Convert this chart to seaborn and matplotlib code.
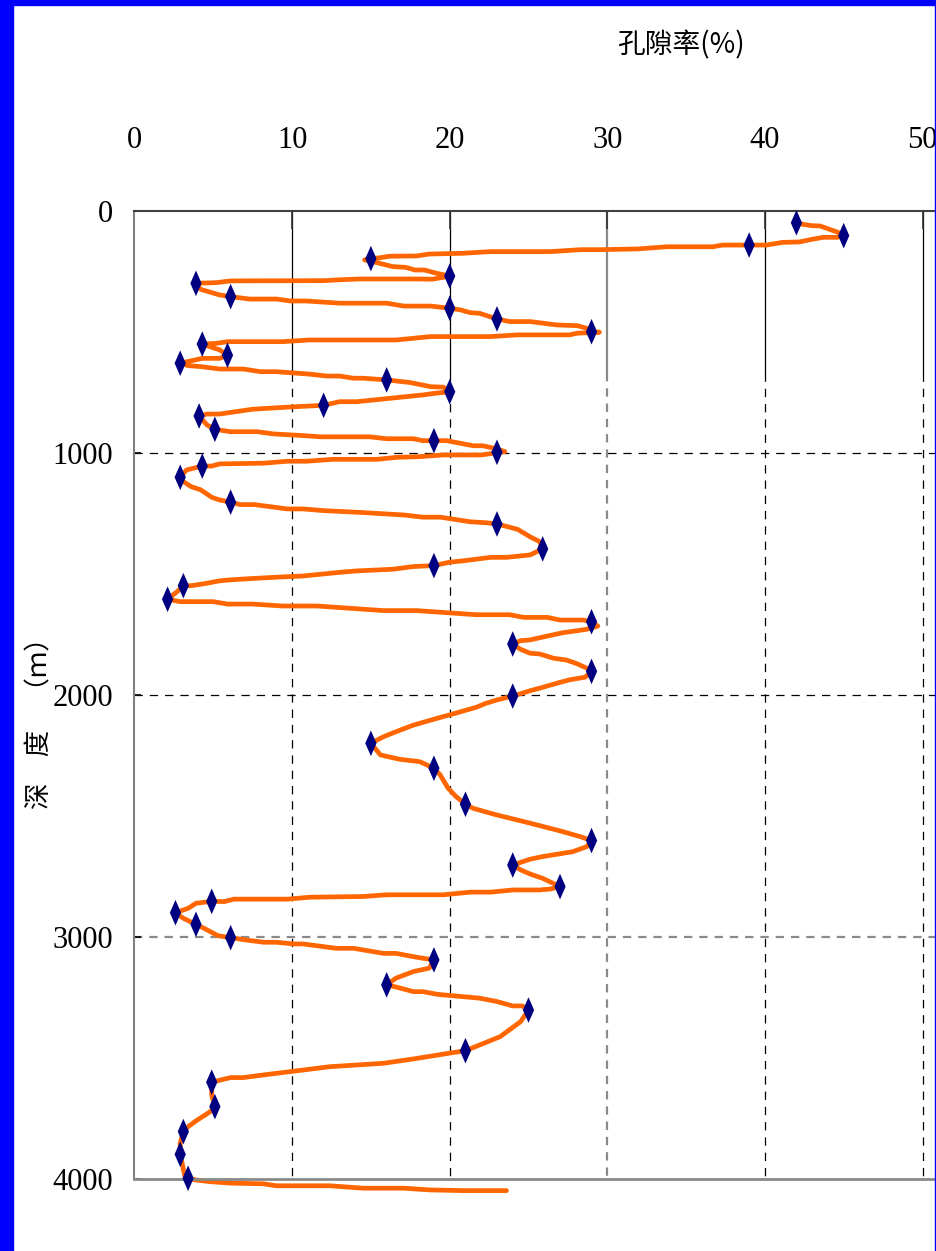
import matplotlib
matplotlib.use("Agg")
import matplotlib.pyplot as plt
from matplotlib.patches import Rectangle
from matplotlib.path import Path
from matplotlib.markers import MarkerStyle
import seaborn as sns

# Porosity log (%) against depth (m): continuous curve
curve_porosity = [
    42.0, 42.3, 43.0, 43.5, 44.1, 44.8, 45.0,
    44.6, 43.7, 43.0, 42.2, 41.1, 40.1, 39.0, 37.3, 36.7, 33.8, 31.9, 29.5, 28.3,
    26.4, 22.6, 20.8, 18.7, 17.9, 16.2, 15.5, 15.0, 14.6,
    15.4, 16.4, 17.2, 17.8, 18.4, 19.2, 20.0,
    19.6, 18.9, 17.9, 14.3, 12.8, 12.0, 6.1, 5.2, 3.9,
    4.2, 5.4, 6.1, 7.3, 9.0, 9.9, 10.9, 13.0, 16.0, 17.1, 18.8, 20.0,
    20.7, 21.3, 21.9, 23.0, 23.8, 25.1, 26.8, 28.1, 28.7, 29.0, 29.5,
    28.1, 27.6, 24.3, 22.6, 18.8, 16.6, 11.1, 9.4, 5.9, 5.2, 4.3,
    4.8, 5.4, 5.9,
    5.4, 4.3, 3.6, 2.9,
    3.4, 4.2, 5.4, 6.9, 8.0, 9.0, 11.1, 12.2, 13.0, 13.9, 14.5, 16.0, 17.5, 18.8, 19.6, 20.0,
    19.1, 18.3, 14.1, 13.0, 12.4, 12.0, 10.1, 8.6, 7.5, 5.4, 4.6, 4.1,
    4.6, 5.1, 6.1, 7.8, 8.8, 10.7, 11.8, 14.9, 16.0, 17.7, 18.3, 19.0, 19.8, 20.7, 21.5,
    22.1, 22.8, 23.5,
    22.0, 19.6, 18.1, 16.6, 15.4, 12.6, 10.9, 9.7, 8.2, 5.4, 4.9, 4.3, 3.3, 2.9,
    3.1, 3.6, 4.2, 4.9, 5.4, 6.1, 6.7, 7.6, 9.7, 10.7, 12.0, 14.5, 17.1, 18.3, 19.4,
    21.3, 22.3, 23.0, 24.3, 25.1, 25.7, 25.9,
    25.1, 23.6, 22.6, 20.9, 20.0, 19.0, 17.7, 16.4, 15.4, 14.1, 13.0, 10.7, 9.0, 7.3,
    6.1, 5.4, 4.6, 3.6, 3.1, 2.7, 2.1,
    2.9, 5.0, 5.9, 7.5, 9.4, 11.6, 15.8, 17.9, 21.7, 23.8, 24.7, 26.2, 27.0, 28.5, 29.0, 29.4,
    28.7, 28.1, 27.2, 26.2, 25.1, 24.5, 24.0,
    24.5, 25.1, 25.7, 26.6, 27.4, 28.1, 28.7, 29.0,
    28.6, 27.6, 26.8, 25.9, 25.1, 24.0, 23.0, 22.3, 21.7, 20.2, 19.2, 17.7, 16.6, 15.8, 15.0,
    15.6, 16.8, 18.1, 18.7, 19.0, 19.4, 19.9, 20.4, 21.0, 21.5, 22.8, 25.1, 27.0, 28.3, 29.0,
    28.7, 27.8, 25.9, 25.1, 24.0, 24.5, 25.1, 25.9, 27.0,
    26.4, 25.7, 24.0, 22.6, 21.3, 19.6, 16.0, 14.5, 11.1, 9.7, 6.3, 5.7, 4.9, 3.9, 3.4, 2.6,
    3.1, 3.9, 4.4, 5.3, 6.1, 7.1, 8.2, 9.0, 10.1, 10.7, 12.8, 13.9, 15.8, 16.6, 17.9, 19.0,
    18.7, 17.7, 16.6, 16.0,
    16.6, 17.7, 18.3, 19.2, 21.9, 23.0, 24.0, 24.6, 25.0,
    24.5, 23.2, 21.9, 21.0, 20.0, 17.7, 15.8, 13.2, 12.4, 9.9, 8.2, 6.9, 6.1, 4.9,
    4.9, 5.1, 4.8, 3.9, 3.4, 3.1, 2.9, 2.9, 3.2, 3.4,
    3.9, 4.8, 6.1, 8.2, 9.0, 12.4, 14.5, 17.1, 18.7, 20.9, 23.6,
]
curve_depth = [
    50, 55, 62, 63, 77, 93, 103,
    110, 110, 118, 129, 131, 142, 142, 142, 149, 149, 158, 161, 161,
    169, 169, 176, 179, 187, 188, 195, 198, 203,
    215, 231, 234, 245, 245, 259, 270,
    275, 283, 282, 282, 286, 289, 290, 297, 300,
    325, 348, 355, 365, 365, 373, 373, 382, 382, 394, 394, 403,
    410, 421, 424, 447, 458, 458, 472, 475, 486, 500, 502,
    506, 513, 513, 520, 520, 534, 534, 541, 541, 548, 551,
    562, 575, 597,
    610, 610, 620, 630,
    640, 644, 654, 654, 665, 665, 675, 683, 683, 692, 692, 699, 710, 727, 729, 748,
    754, 761, 789, 789, 798, 804, 810, 816, 820, 840, 840, 848,
    885, 903, 913, 913, 922, 929, 934, 934, 942, 942, 950, 950, 950, 961, 971,
    971, 981, 995,
    1009, 1009, 1016, 1019, 1027, 1027, 1035, 1035, 1043, 1046, 1055, 1055, 1071, 1101,
    1119, 1140, 1153, 1184, 1195, 1204, 1214, 1214, 1232, 1232, 1239, 1247, 1257, 1266, 1266,
    1285, 1289, 1294, 1316, 1347, 1367, 1397,
    1422, 1432, 1432, 1446, 1452, 1466, 1470, 1481, 1484, 1488, 1494, 1509, 1514, 1520,
    1525, 1529, 1539, 1549, 1549, 1574, 1605,
    1615, 1615, 1625, 1625, 1633, 1633, 1652, 1652, 1669, 1669, 1680, 1680, 1691, 1691, 1698, 1716,
    1729, 1735, 1743, 1757, 1773, 1776, 1790,
    1812, 1828, 1831, 1849, 1856, 1872, 1890, 1903,
    1927, 1938, 1952, 1969, 1983, 2005, 2021, 2035, 2051, 2079, 2097, 2125, 2152, 2173, 2200,
    2248, 2266, 2276, 2294, 2303, 2331, 2386, 2420, 2452, 2469, 2493, 2530, 2562, 2586, 2602,
    2627, 2648, 2668, 2679, 2703, 2723, 2740, 2758, 2792,
    2802, 2806, 2806, 2815, 2815, 2826, 2826, 2833, 2836, 2844, 2844, 2854, 2853, 2861, 2882, 2900,
    2923, 2948, 2964, 2995, 3003, 3013, 3022, 3022, 3029, 3029, 3047, 3047, 3068, 3068, 3084, 3095,
    3129, 3143, 3170, 3198,
    3207, 3226, 3226, 3237, 3253, 3267, 3285, 3285, 3302,
    3350, 3412, 3446, 3470, 3480, 3504, 3522, 3533, 3536, 3556, 3570, 3581, 3581, 3600,
    3653, 3701, 3722, 3760, 3784, 3804, 3852, 3898, 3990, 3997,
    4004, 4011, 4017, 4020, 4028, 4028, 4038, 4038, 4045, 4048, 4048,
]

# Measured sample points
sample_porosity = [
    42.0, 45.0, 39.0, 15.0, 20.0, 3.9, 6.1, 20.0, 23.0, 29.0,
    4.3, 5.9, 2.9, 16.0, 20.0, 12.0, 4.1, 5.1, 19.0, 23.0,
    4.3, 2.9, 6.1, 23.0, 25.9, 19.0, 3.1, 2.1, 29.0, 24.0,
    29.0, 24.0, 15.0, 19.0, 21.0, 29.0, 24.0, 27.0, 4.9, 2.6,
    3.9, 6.1, 19.0, 16.0, 25.0, 21.0, 4.9, 5.1, 3.1, 2.9, 3.4,
]
sample_depth = [
    50, 103, 142, 198, 270, 300, 355, 403, 447, 500,
    551, 597, 630, 699, 748, 804, 848, 903, 950, 998,
    1055, 1101, 1204, 1294, 1397, 1466, 1549, 1605, 1698, 1790,
    1903, 2005, 2200, 2303, 2452, 2602, 2703, 2792, 2853, 2900,
    2948, 3003, 3095, 3198, 3302, 3470, 3600, 3701, 3804, 3898, 3997,
]

x_ticks = [0, 10, 20, 30, 40, 50]
y_ticks = [0, 1000, 2000, 3000, 4000]
grid_x = [10, 20, 30, 40, 50]
grid_y = [1000, 2000, 3000]
solid_grid_limit = 670  # vertical grid lines are solid above this depth

x_title = "孔隙率(%)"
y_title = "深　度　（ｍ）"

sns.set_theme(style="white")
plt.rcParams["font.family"] = ["Liberation Serif", "Noto Sans CJK SC", "DejaVu Sans"]
plt.rcParams["lines.scale_dashes"] = False

W, H = 937, 1251
fig = plt.figure(figsize=(W / 100, H / 100), dpi=100)
fig.patch.set_facecolor("white")

ax_l, ax_r, ax_t, ax_b = 134.5, 937.0, 210.7, 1179.0
ax = fig.add_axes([ax_l / W, 1 - ax_b / H, (ax_r - ax_l) / W, (ax_b - ax_t) / H])
ax.set_facecolor("white")

# grid lines
dash = (0, (6, 5))
for gx in grid_x:
    col = "#8a8a8a" if gx == 30 else "black"
    lw = 1.6 if gx == 30 else 0.9
    ax.plot([gx, gx], [0, solid_grid_limit], color=col, lw=lw, zorder=0.5)
    ax.plot([gx, gx], [solid_grid_limit, 4000], color=col, lw=lw, ls=dash, zorder=0.5)
for gy in grid_y:
    col = "#8a8a8a" if gy == 3000 else "black"
    lw = 1.6 if gy == 3000 else 0.9
    ax.axhline(gy, color=col, lw=lw, ls=dash, zorder=0.5)

# porosity curve and sample markers
sns.lineplot(x=curve_porosity, y=curve_depth, sort=False, estimator=None,
             color="#FF6600", linewidth=3.4, ax=ax, clip_on=False, zorder=2)

diamond = Path([(0, 1), (0.44, 0), (0, -1), (-0.44, 0), (0, 1)],
               [Path.MOVETO, Path.LINETO, Path.LINETO, Path.LINETO, Path.CLOSEPOLY])
sns.scatterplot(x=sample_porosity, y=sample_depth, marker=MarkerStyle(diamond),
                s=340, color="#000080", edgecolor="none", linewidth=0,
                ax=ax, zorder=3, clip_on=False)

ax.set_xlim(0, 50.92)
ax.set_ylim(4000, 0)
ax.set_xticks(x_ticks)
ax.set_yticks(y_ticks)
ax.set_xticklabels([str(v) for v in x_ticks])
ax.set_yticklabels([str(v) for v in y_ticks])

ax.xaxis.tick_top()
ax.tick_params(axis="x", which="both", top=True, bottom=False, labeltop=True,
               labelbottom=False, direction="in", length=13, width=1.2,
               color="#303030", pad=40, labelsize=22, labelcolor="black")
ax.tick_params(axis="y", left=True, right=False, direction="in", length=5,
               width=1.2, color="black", pad=15.5, labelsize=22, labelcolor="black")

for name, sp in ax.spines.items():
    sp.set_visible(name != "right")
ax.spines["top"].set_color("#404040")
ax.spines["top"].set_linewidth(1.5)
ax.spines["left"].set_color("#808080")
ax.spines["left"].set_linewidth(1.5)
ax.spines["bottom"].set_color("#8a8a8a")
ax.spines["bottom"].set_linewidth(2.0)

cjk = ["Noto Sans CJK SC", "DejaVu Sans"]
ax.set_xlabel(x_title, fontsize=20, family=cjk, color="black", va="center")
ax.xaxis.set_label_position("top")
ax.xaxis.set_label_coords((681 - ax_l) / (ax_r - ax_l), (ax_b - 53) / (ax_b - ax_t))

ax.set_ylabel(y_title, fontsize=19, family=cjk, color="black",
              rotation=90, va="center", ha="center")
ax.yaxis.set_label_coords((40 - ax_l) / (ax_r - ax_l), (ax_b - 717) / (ax_b - ax_t))

# frame strips
blue = "#0000FF"
fig.add_artist(Rectangle((0, 0), 12.5 / W, 1, transform=fig.transFigure,
                         color=blue, zorder=10))
fig.add_artist(Rectangle((0, 1 - 5 / H), 1, 5 / H, transform=fig.transFigure,
                         color=blue, zorder=10))
fig.add_artist(Rectangle((935 / W, 0), 2 / W, 1, transform=fig.transFigure,
                         color=blue, zorder=10))

fig.savefig("out.png", dpi=100)
